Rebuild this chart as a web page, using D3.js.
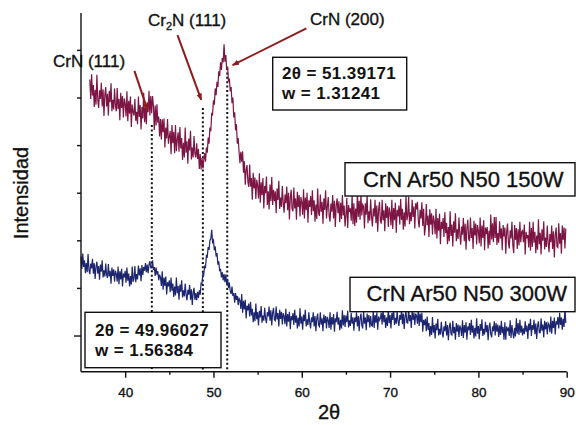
<!DOCTYPE html>
<html>
<head>
<meta charset="utf-8">
<script src="https://cdn.jsdelivr.net/npm/d3@7"></script>
<style>
  body { margin: 0; background: #fff; }
  svg { display: block; }
  text { font-family: "Liberation Sans", Arial, sans-serif; }
</style>
</head>
<body>
<svg id="chart" width="576" height="425"></svg>
<script>
// ---- data ----
const xTicks = [40, 50, 60, 70, 80, 90];
const xMinorTicks = [45, 55, 65, 75, 85];
const yTicks = [0, 100, 200, 300, 400, 500, 600];

const seriesNames = ["CrN Ar50 N50 150W", "CrN Ar50 N50 300W"];
const angleStep = 0.1;
const angleStart150 = 36.0;
const angleStart300 = 35.0;

// diffractogram, 150 W sample (arbitrary intensity units), 36.0° .. 89.9°
const intensity150 = [
  538,497,549,504,526,480,516,485,548,495,
  478,515,497,531,481,517,461,506,522,481,
  508,462,514,490,530,471,495,475,519,483,
  471,520,476,497,452,510,478,503,458,498,
  487,460,513,450,493,466,502,438,485,470,
  462,497,451,470,444,502,459,484,433,480,
  456,510,448,479,444,490,469,514,462,503,
  467,503,482,432,483,441,486,447,460,418,
  455,412,454,427,456,395,437,414,455,403,
  418,430,381,442,404,428,383,442,387,411,
  427,386,438,393,415,369,405,374,437,384,
  408,361,414,389,430,370,395,374,419,382,
  374,404,371,392,350,381,349,373,351,368,
  383,365,395,384,416,403,437,429,466,464,
  494,485,519,505,533,522,555,545,574,558,
  583,574,612,575,589,558,565,533,540,513,
  522,488,500,458,469,431,444,403,415,385,
  362,386,365,387,342,366,317,348,358,322,
  312,359,313,331,285,342,309,332,287,327,
  315,288,341,279,322,295,331,267,314,299,
  334,274,303,265,317,282,333,274,306,282,
  303,257,309,285,325,266,290,270,314,278,
  258,296,278,313,263,300,244,290,306,266,
  261,311,267,288,243,302,270,295,250,291,
  280,254,307,246,290,263,300,237,284,270,
  293,253,305,261,284,239,275,245,309,257,
  251,296,260,281,235,288,264,305,246,271,
  291,251,239,277,260,295,246,283,228,274,
  288,257,282,238,279,245,295,252,273,229,
  252,289,226,274,260,267,241,295,234,278,
  230,267,237,301,249,283,243,296,252,275,
  271,225,278,254,295,236,261,241,286,250,
  229,267,250,285,236,273,218,264,281,241,
  235,285,242,263,219,278,247,272,228,269,
  257,231,285,224,268,242,279,216,264,250,
  273,233,287,243,266,222,259,229,294,242,
  251,292,234,259,240,285,249,271,225,278,
  265,281,240,227,264,246,280,230,266,210,
  227,276,232,252,207,265,233,257,212,252,
  240,213,266,204,247,220,256,192,239,224,
  247,207,259,215,237,192,228,198,261,209,
  233,187,240,216,257,198,223,203,248,212,
  191,229,212,247,198,235,180,226,243,203,
  198,248,205,226,182,241,210,235,191,232,
  220,194,248,187,231,205,242,179,227,213,
  228,183,220,190,254,202,236,196,249,205,
  249,190,215,195,240,204,225,179,232,208,
  227,172,218,235,195,183,221,204,239,190,
  173,232,201,226,182,223,189,239,196,217,
  222,196,233,170,218,204,211,185,239,178,
  226,186,239,195,218,173,210,180,244,192,
  216,170,223,199,240,181,206,186,231,195,
  175,213,196,231,182,219,164,210,227,187,
  185,236,193,215,172,231,201,227,183,225
];

// diffractogram, 300 W sample (arbitrary intensity units), 35.0° .. 89.9°
const intensity300 = [
  166,140,172,144,158,131,152,133,171,138,
  129,151,141,161,130,152,119,145,155,130,
  146,117,149,134,158,122,137,124,151,128,
  121,150,124,136,109,143,125,139,113,136,
  129,113,145,108,135,118,140,103,130,122,
  136,111,143,115,130,103,125,107,145,113,
  120,146,112,129,118,147,126,141,114,148,
  127,144,136,152,133,149,131,149,156,142,
  142,158,138,144,125,143,128,135,116,128,
  122,104,135,96,122,104,124,86,112,103,
  116,91,122,94,109,81,103,84,122,89,
  104,75,107,92,116,80,95,82,109,86,
  74,96,86,106,75,97,64,90,100,75,
  89,74,92,79,95,86,110,109,130,128,
  145,143,168,166,186,180,200,203,222,196,
  200,179,187,166,173,149,156,135,140,122,
  133,116,129,112,128,108,119,100,111,93,
  87,103,83,89,69,89,75,83,64,78,
  74,56,87,48,73,55,75,36,63,53,
  67,40,71,42,56,28,49,30,67,34,
  49,21,52,38,62,27,42,31,58,36,
  26,49,40,61,31,53,21,48,58,33,
  31,61,34,47,19,54,35,50,23,47,
  40,24,56,19,45,29,50,13,41,32,
  47,22,54,27,42,15,37,19,57,25,
  40,12,44,30,54,19,34,22,49,27,
  15,38,28,49,19,41,9,36,46,22,
  19,49,23,36,9,44,26,41,15,39,
  32,16,49,12,39,23,45,8,36,28,
  50,23,38,11,33,15,53,21,43,18,
  42,28,52,17,32,20,47,25,38,10,
  38,28,49,19,41,9,36,46,22,15,
  51,25,38,11,46,28,43,17,41,21,
  20,53,16,43,27,49,12,40,32,36,
  48,23,55,28,43,16,38,20,58,26,
  43,15,47,33,57,22,37,25,52,30,
  20,43,33,54,24,46,14,41,51,27,
  26,56,30,43,16,51,33,48,22,46,
  41,25,58,20,46,28,48,8,33,22,
  35,9,40,12,26,-2,20,1,39,6,
  22,-6,25,11,35,0,14,2,29,7,
  -4,19,9,30,0,22,-10,17,27,3,
  1,31,5,18,-9,26,8,23,-3,21,
  15,-1,32,-5,22,6,28,-9,19,11,
  26,1,33,6,21,-6,16,-2,36,4,
  20,-8,24,10,34,-1,14,2,29,7,
  22,-10,17,27,3,-4,19,9,30,0,
  26,8,23,-3,21,1,31,5,18,-9,
  28,-9,19,11,15,-1,32,-5,22,6,
  -6,16,-2,36,4,26,1,33,6,21,
  0,15,3,30,8,21,-7,25,11,35,
  -1,22,12,33,3,25,-7,20,30,6,
  6,36,10,23,-4,31,13,28,2,26,
  22,7,40,4,31,16,38,2,30,23,
  39,15,48,22,38,12,35,18,57,26
];

// reflections: label, 2θ position, top of the dotted marker, arrow start/end
const peakLabels = ["CrN (111)", "Cr2N (111)", "CrN (200)"];
const peakAngles = [43.02, 48.80, 51.56];
const peakMarkerTops = [442, 478, 562];
const arrowFrom = [[41.05, 556], [45.93, 631], [60.52, 645]];
const arrowTo = [[42.53, 474], [48.62, 495], [52.17, 568]];

// peak fit results
const fit150 = ["2θ = 51.39171", "w = 1.31241"];
const fit300 = ["2θ = 49.96027", "w = 1.56384"];

// ---- drawing ----
const svg = d3.select("#chart");
const x = d3.scaleLinear().domain([35, 90]).range([81, 566.7]);
const y = d3.scaleLinear().domain([-76, 677.5]).range([371.7, 13]);
const ink = "#111";

const toPoints = (start, vals) => vals.map((v, i) => [start + i * angleStep, v]);
const line = d3.line().x(d => x(d[0])).y(d => y(d[1]));

// dotted peak markers
svg.append("g").selectAll("line").data(peakAngles).join("line")
  .attr("x1", d => x(d)).attr("x2", d => x(d))
  .attr("y1", (d, i) => y(peakMarkerTops[i])).attr("y2", y(-76))
  .attr("stroke", ink).attr("stroke-width", 2).attr("stroke-dasharray", "2,2.4");

// curves
svg.append("path").datum(toPoints(angleStart150, intensity150))
  .attr("d", line).attr("fill", "none").attr("stroke", "#7c1544").attr("stroke-width", 1.2);
svg.append("path").datum(toPoints(angleStart300, intensity300))
  .attr("d", line).attr("fill", "none").attr("stroke", "#1c2570").attr("stroke-width", 1.2);

// axes
const xAxis = svg.append("g").attr("transform", `translate(0,${y(-76)})`)
  .call(d3.axisBottom(x).tickValues(xTicks).tickSize(6).tickPadding(10).tickFormat(d3.format("d")));
svg.append("g").attr("transform", `translate(0,${y(-76)})`)
  .call(d3.axisBottom(x).tickValues(xMinorTicks).tickSize(3).tickFormat(""))
  .select(".domain").remove();
xAxis.select(".domain").attr("d", `M${x(35)},0H${x(90)}`);
xAxis.selectAll("text").attr("font-size", 13.5).attr("fill", ink)
  .attr("stroke", ink).attr("stroke-width", 0.35)
  .attr("font-family", "'Liberation Sans', Arial, sans-serif");

const yAxis = svg.append("g").attr("transform", `translate(${x(35)},0)`)
  .call(d3.axisLeft(y).tickValues(yTicks).tickSize(4).tickFormat(""));
yAxis.select(".domain").attr("d", `M0,${y(677.5)}V${y(-76)}`);
yAxis.selectAll(".tick line").attr("x2", d => d === 0 ? -7 : -4);
svg.selectAll(".domain, .tick line").attr("stroke", ink).attr("stroke-width", 1.4);

// text helper: slightly heavier strokes for regular-weight labels
const heavy = sel => sel.attr("fill", ink).attr("stroke", ink).attr("stroke-width", 0.35);

// axis titles
heavy(svg.append("text").attr("transform", "translate(28,193) rotate(-90)")
  .attr("text-anchor", "middle").attr("font-size", 20).text("Intensidad"));
heavy(svg.append("text").attr("x", 329).attr("y", 419)
  .attr("text-anchor", "middle").attr("font-size", 20).text("2θ"));

// arrows
const defs = svg.append("defs");
defs.append("marker").attr("id", "head").attr("viewBox", "0 0 10 10")
  .attr("refX", 9).attr("refY", 5).attr("markerWidth", 7).attr("markerHeight", 7)
  .attr("orient", "auto").attr("markerUnits", "userSpaceOnUse")
  .append("path").attr("d", "M0,1L10,5L0,9Z").attr("fill", "#8e1a1c");
svg.append("g").selectAll("line").data(arrowFrom).join("line")
  .attr("x1", d => x(d[0])).attr("y1", d => y(d[1]))
  .attr("x2", (d, i) => x(arrowTo[i][0])).attr("y2", (d, i) => y(arrowTo[i][1]))
  .attr("stroke", "#8e1a1c").attr("stroke-width", 2).attr("marker-end", "url(#head)");

// reflection labels
const labelPos = [[53, 67], [148, 26], [310, 25]];
peakLabels.forEach((lab, i) => {
  const t = heavy(svg.append("text").attr("x", labelPos[i][0]).attr("y", labelPos[i][1])
    .attr("font-size", 17));
  const m = lab.match(/^Cr(\d)(.*)$/);
  if (m) {
    t.append("tspan").text("Cr");
    t.append("tspan").attr("font-size", 11).attr("dy", 4).text(m[1]);
    t.append("tspan").attr("dy", -4).text(m[2]);
  } else {
    t.text(lab);
  }
});

// boxed annotations
function box(x0, y0, x1, y1) {
  svg.append("rect").attr("x", x0).attr("y", y0).attr("width", x1 - x0).attr("height", y1 - y0)
    .attr("fill", "#fff").attr("stroke", ink).attr("stroke-width", 1.4);
}
function fitBox(lines, x0, y0, x1, y1, tx, ty) {
  box(x0, y0, x1, y1);
  lines.forEach((s, i) => svg.append("text").attr("x", tx).attr("y", ty + i * 19.5)
    .attr("font-size", 17).attr("letter-spacing", 0.4).attr("font-weight", "bold")
    .attr("fill", ink).text(s));
}
fitBox(fit150, 272.7, 57.3, 406.7, 110, 282, 79);
fitBox(fit300, 85, 312.3, 221, 367.7, 95, 336);

box(345, 162.7, 575, 196);
heavy(svg.append("text").attr("x", 363).attr("y", 187).attr("font-size", 22).text(seriesNames[0]));
box(350, 277.3, 575, 311.7);
heavy(svg.append("text").attr("x", 366.5).attr("y", 301).attr("font-size", 22).text(seriesNames[1]));
</script>
</body>
</html>
